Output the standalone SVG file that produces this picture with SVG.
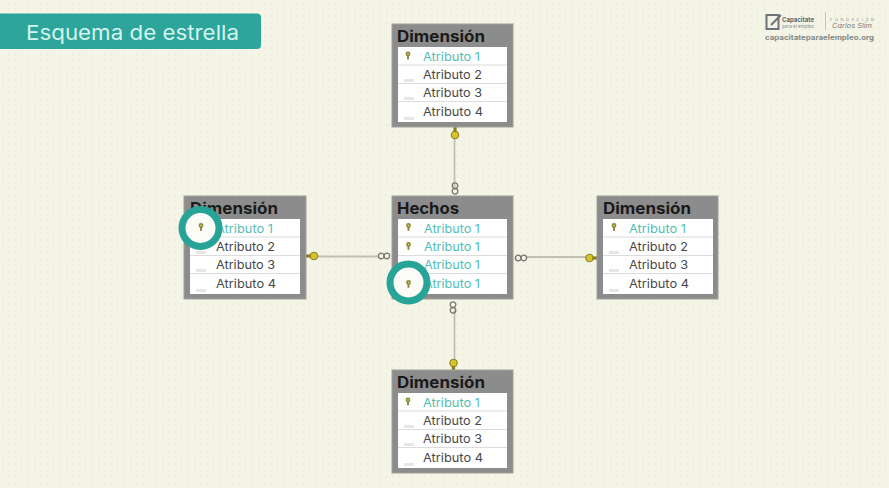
<svg xmlns="http://www.w3.org/2000/svg" xmlns:xlink="http://www.w3.org/1999/xlink" width="889" height="488" viewBox="0 0 889 488">
<style>
text{font-family:Inter,"Open Sans","Liberation Sans",sans-serif}
.box{fill:#8c8c8c;stroke:#a0a09a;stroke-width:1}
.rows{fill:#fff}
.sep{stroke:#dcdcdc;stroke-width:1.2}
.title{font-size:15.500px;font-weight:700;fill:#1a1a1a}
.attr{font-size:12px;fill:#484848}
.pk{font-size:12px;fill:#52bdb6}
.blank{fill:#e6e6e6}
.conn{stroke:#c0c0b6;stroke-width:1.800;fill:none}
.inf{fill:none;stroke:#777770;stroke-width:1.300}
.halo{fill:#fbfbf7;stroke:#27a398;stroke-width:7}
</style>
<defs>
<pattern id="dots" width="6.400" height="6.400" patternUnits="userSpaceOnUse">
<rect x="2" y="2" width="1.200" height="2.400" fill="#ecebda"/>
</pattern>
<g id="key">
<circle cx="0" cy="-1.500" r="2.400" fill="#8c8a3c"/>
<rect x="-1" y="-1" width="2" height="4.800" fill="#8c8a3c"/>
<circle cx="0" cy="-1.500" r="0.800" fill="#e8e27a"/>
</g>
<g id="gold">
<circle cx="0" cy="0" r="3.800" fill="#d6c42c" stroke="#8a7d1e" stroke-width="1"/>
<rect x="3" y="-1.600" width="6.500" height="3.200" fill="#8a7d1e"/>
</g>
<g id="inf">
<circle cx="-2.800" cy="0" r="2.800" class="inf"/>
<circle cx="2.800" cy="0" r="2.800" class="inf"/>
</g>
</defs>
<rect width="889" height="488" fill="#f4f4e7"/>
<rect width="889" height="488" fill="url(#dots)"/>

<g id="connectors">
<line class="conn" x1="454.500" y1="132" x2="454.500" y2="188"/>
<line class="conn" x1="454.500" y1="310" x2="454.500" y2="365"/>
<line class="conn" x1="314" y1="256.500" x2="378" y2="256.500"/>
<line class="conn" x1="527" y1="257" x2="592" y2="257"/>
<use xlink:href="#gold" href="#gold" transform="translate(455,135) rotate(-90)"/>
<use xlink:href="#inf" href="#inf" transform="translate(455,188.500) rotate(90)"/>
<use xlink:href="#inf" href="#inf" transform="translate(453,307.500) rotate(90)"/>
<use xlink:href="#gold" href="#gold" transform="translate(453.500,363) rotate(90)"/>
<use xlink:href="#gold" href="#gold" transform="translate(314,256) rotate(180)"/>
<use xlink:href="#inf" href="#inf" transform="translate(384,256)"/>
<use xlink:href="#inf" href="#inf" transform="translate(521,258)"/>
<use xlink:href="#gold" href="#gold" transform="translate(589.500,258)"/>
</g>

<g id="dim-top">
<rect class="box" x="392" y="24" width="121" height="103"/>
<text class="title" x="397" y="42" textLength="88" lengthAdjust="spacingAndGlyphs">Dimensión</text>
<rect class="rows" x="398" y="47" width="109" height="75"/>
<path class="sep" d="M398 65H507M398 83.500H507M398 101.500H507"/>
<rect class="blank" x="404" y="79" width="10" height="3"/><rect class="blank" x="404" y="97" width="10" height="3"/><rect class="blank" x="404" y="117" width="10" height="3"/>
<use xlink:href="#key" href="#key" x="408" y="55.500"/>
<text class="pk" x="423" y="60.500" textLength="57" lengthAdjust="spacingAndGlyphs">Atributo 1</text>
<text class="attr" x="423" y="78.500" textLength="59" lengthAdjust="spacingAndGlyphs">Atributo 2</text>
<text class="attr" x="423" y="96.500" textLength="59" lengthAdjust="spacingAndGlyphs">Atributo 3</text>
<text class="attr" x="423" y="116" textLength="60" lengthAdjust="spacingAndGlyphs">Atributo 4</text>
</g>

<g id="dim-left">
<rect class="box" x="184" y="196" width="122" height="103"/>
<text class="title" x="190" y="214" textLength="88" lengthAdjust="spacingAndGlyphs">Dimensión</text>
<rect class="rows" x="190" y="219" width="110" height="75"/>
<path class="sep" d="M190 237H300M190 255.500H300M190 273.500H300"/>
<rect class="blank" x="196" y="251" width="10" height="3"/><rect class="blank" x="196" y="269" width="10" height="3"/><rect class="blank" x="196" y="289" width="10" height="3"/>
<text class="pk" x="216" y="232.500" textLength="57" lengthAdjust="spacingAndGlyphs">Atributo 1</text>
<text class="attr" x="216" y="251" textLength="59" lengthAdjust="spacingAndGlyphs">Atributo 2</text>
<text class="attr" x="216" y="269" textLength="59" lengthAdjust="spacingAndGlyphs">Atributo 3</text>
<text class="attr" x="216" y="288" textLength="60" lengthAdjust="spacingAndGlyphs">Atributo 4</text>
</g>

<g id="hechos">
<rect class="box" x="392" y="196" width="121" height="103"/>
<text class="title" x="397" y="214" textLength="62" lengthAdjust="spacingAndGlyphs">Hechos</text>
<rect class="rows" x="398" y="219" width="109" height="75"/>
<path class="sep" d="M398 237H507M398 255.500H507M398 273.500H507"/>
<use xlink:href="#key" href="#key" x="408.500" y="227"/>
<use xlink:href="#key" href="#key" x="408.500" y="246"/>
<text class="pk" x="424" y="232.500" textLength="56" lengthAdjust="spacingAndGlyphs">Atributo 1</text>
<text class="pk" x="424" y="250.500" textLength="56" lengthAdjust="spacingAndGlyphs">Atributo 1</text>
<text class="pk" x="424" y="269" textLength="56" lengthAdjust="spacingAndGlyphs">Atributo 1</text>
<text class="pk" x="424" y="288" textLength="56" lengthAdjust="spacingAndGlyphs">Atributo 1</text>
</g>

<g id="dim-right">
<rect class="box" x="597" y="196" width="121" height="103"/>
<text class="title" x="603" y="214" textLength="88" lengthAdjust="spacingAndGlyphs">Dimensión</text>
<rect class="rows" x="603" y="219" width="110" height="75"/>
<path class="sep" d="M603 237H713M603 255.500H713M603 273.500H713"/>
<rect class="blank" x="609" y="251" width="10" height="3"/><rect class="blank" x="609" y="269" width="10" height="3"/><rect class="blank" x="609" y="289" width="10" height="3"/>
<use xlink:href="#key" href="#key" x="614" y="227"/>
<text class="pk" x="629" y="232.500" textLength="57" lengthAdjust="spacingAndGlyphs">Atributo 1</text>
<text class="attr" x="629" y="251" textLength="59" lengthAdjust="spacingAndGlyphs">Atributo 2</text>
<text class="attr" x="629" y="269" textLength="59" lengthAdjust="spacingAndGlyphs">Atributo 3</text>
<text class="attr" x="629" y="288" textLength="60" lengthAdjust="spacingAndGlyphs">Atributo 4</text>
</g>

<g id="dim-bottom">
<rect class="box" x="392" y="370" width="121" height="103"/>
<text class="title" x="397" y="388" textLength="88" lengthAdjust="spacingAndGlyphs">Dimensión</text>
<rect class="rows" x="398" y="393" width="109" height="75"/>
<path class="sep" d="M398 411H507M398 429.500H507M398 447.500H507"/>
<rect class="blank" x="404" y="425" width="10" height="3"/><rect class="blank" x="404" y="443" width="10" height="3"/><rect class="blank" x="404" y="463" width="10" height="3"/>
<use xlink:href="#key" href="#key" x="408" y="401.500"/>
<text class="pk" x="423" y="406.500" textLength="57" lengthAdjust="spacingAndGlyphs">Atributo 1</text>
<text class="attr" x="423" y="425" textLength="59" lengthAdjust="spacingAndGlyphs">Atributo 2</text>
<text class="attr" x="423" y="443" textLength="59" lengthAdjust="spacingAndGlyphs">Atributo 3</text>
<text class="attr" x="423" y="462" textLength="60" lengthAdjust="spacingAndGlyphs">Atributo 4</text>
</g>

<g id="highlight-left">
<circle class="halo" cx="200.500" cy="228" r="18.500"/>
<use xlink:href="#key" href="#key" x="201" y="227"/>
</g>
<g id="highlight-center">
<circle class="halo" cx="408.500" cy="282.500" r="18.500"/>
<use xlink:href="#key" href="#key" x="408.500" y="284"/>
</g>

<g id="title-banner">
<path d="M0 13.500H257a4 4 0 0 1 4 4V45a4 4 0 0 1-4 4H0Z" fill="#2da59b"/>
<text x="26" y="40" font-size="20.500" fill="#d4f4ee" textLength="213" lengthAdjust="spacingAndGlyphs">Esquema de estrella</text>
</g>

<g id="logo">
<rect x="766.500" y="15" width="12" height="14" fill="none" stroke="#6d7478" stroke-width="2"/>
<path d="M771 25L781 15" stroke="#6d7478" stroke-width="2"/>
<text x="782" y="22" font-size="6.200" font-weight="700" fill="#5f676b" textLength="32" lengthAdjust="spacingAndGlyphs">Capacitate</text>
<text x="782" y="28" font-size="5" fill="#8a8f92" textLength="32" lengthAdjust="spacingAndGlyphs">para el empleo</text>
<line x1="825.500" y1="12" x2="825.500" y2="30" stroke="#c4c4bc"/>
<text x="830" y="21" font-size="4" fill="#8a8f92" textLength="44" lengthAdjust="spacing">FUNDACIÓN</text>
<text x="832" y="28" font-size="6.500" font-style="italic" fill="#7a7f82" textLength="40" lengthAdjust="spacingAndGlyphs">Carlos Slim</text>
<text x="765" y="40" font-size="7" font-weight="700" fill="#85898b" textLength="109" lengthAdjust="spacingAndGlyphs">capacitateparaelempleo.org</text>
</g>
</svg>
